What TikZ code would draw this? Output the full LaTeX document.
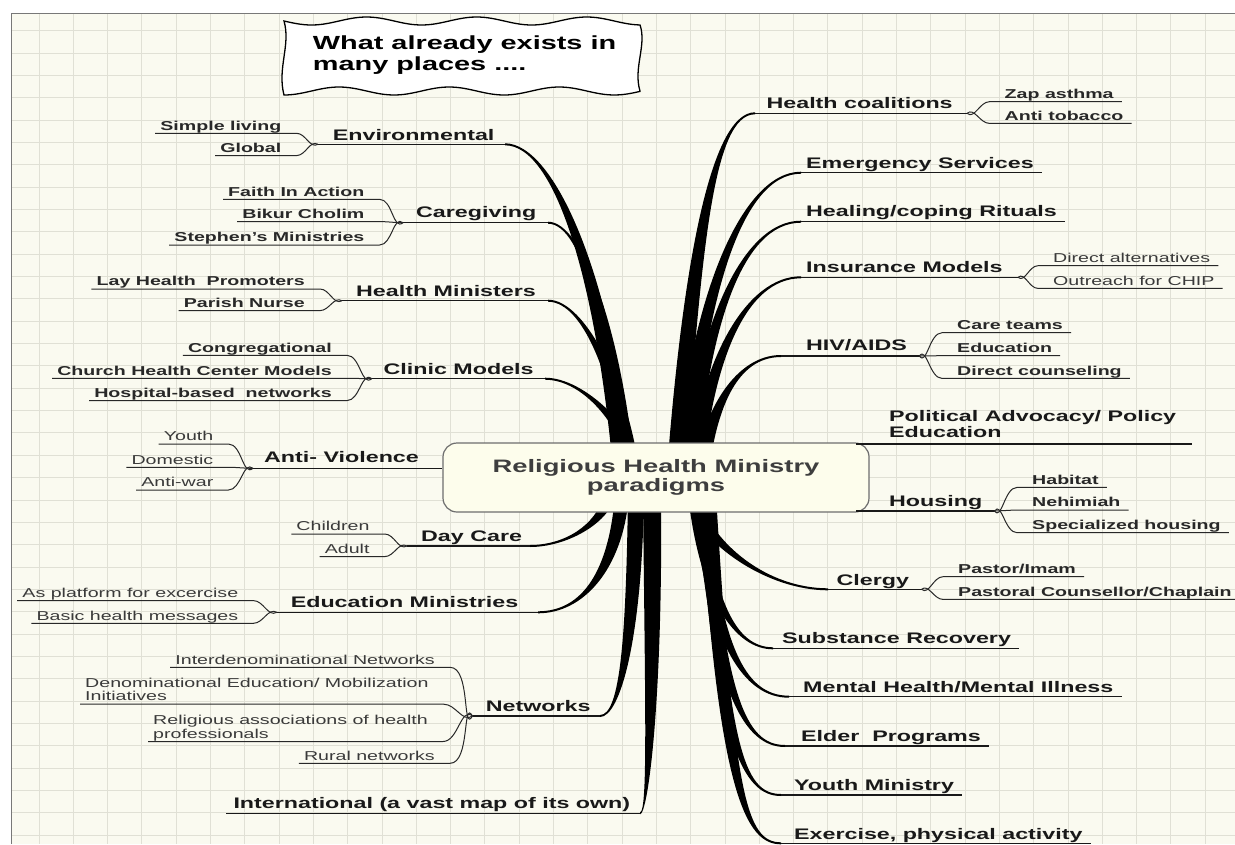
\documentclass[tikz,border=0pt]{standalone}
\usepackage{fontspec}
\setmainfont{Liberation Sans}[FakeStretch=1.52]
\usetikzlibrary{calc}

\definecolor{paper}{RGB}{250,250,240}
\definecolor{gridgray}{RGB}{224,224,213}
\definecolor{framegray}{RGB}{120,120,120}
\definecolor{hubfill}{RGB}{253,253,236}
\definecolor{hubline}{RGB}{110,110,110}
\definecolor{hubtext}{RGB}{62,62,62}
\definecolor{inkdark}{RGB}{25,25,25}
\definecolor{inkleaf}{RGB}{40,40,40}
\definecolor{inkthin}{RGB}{58,58,58}

\tikzset{
  gridline/.style={gridgray, line width=0.9pt},
  topic/.style={font=\bfseries\fontsize{15.3}{16}\selectfont, text=inkdark, inner sep=0pt, anchor=base west},
  leaf/.style={font=\bfseries\fontsize{12.9}{13.4}\selectfont, text=inkleaf, inner sep=0pt},
  thinleaf/.style={font=\fontsize{12.9}{13.4}\selectfont, text=inkthin, inner sep=0pt},
  stem/.style={draw=inkdark, line width=1.5pt},
  twig/.style={draw=inkleaf, line width=1pt},
  trunk/.style={fill=black},
  hub/.style={draw=hubline, fill=hubfill, line width=1.2pt, rounded corners=14pt,
    minimum width=426pt, minimum height=69pt, align=center, text=hubtext,
    font=\bfseries\fontsize{18}{19.5}\selectfont},
  notebox/.style={draw=black, fill=white, line width=1.3pt},
  notetext/.style={align=left, inner sep=0pt, font=\bfseries\fontsize{19}{20.7}\selectfont}
}

% tapered branch: root, end, control offset from root, control offset from end, half width, tip side
\newcommand\branch[6]{%
  \fill[trunk] ($(#1)-(#5,0)$) .. controls ($(#1)+(#3)-(#5,0)$) and ($(#2)+(#4)+(0,#6)$) .. ($(#2)+(0,#6)$)
    -- ($(#2)-(0,#6)$) .. controls ($(#2)+(#4)-(0,#6)$) and ($(#1)+(#3)+(#5,0)$) .. ($(#1)+(#5,0)$) -- cycle;}
% sub-topic lines, left and right
\newcommand\twigl[3]{\draw[twig] ($(#1.base west)+(-5,3.3)$) -- ($(#1.base east)+(15,3.3)$) to[out=0,in=#3] (#2);}
\newcommand\twigr[3]{\draw[twig] (#2) to[out=#3,in=180] ($(#1.base west)+(-15,3.4)$) -- ($(#1.base east)+(8,3.4)$);}

\begin{document}
\begin{tikzpicture}[x=1pt, y=-1pt]
  \useasboundingbox (0,0) rectangle (1235,844);

  % Paper with grid
  \fill[white] (0,0) rectangle (1235,844);
  \fill[paper] (11,13) rectangle (1235,844);
  \foreach \k in {0,...,34}
    \draw[gridline] ({39+34.3*\k},13) -- ({39+34.3*\k},844);
  \foreach \k in {0,...,36}
    \draw[gridline] (11,{30.6+22.35*\k}) -- (1235,{30.6+22.35*\k});
  \draw[framegray, line width=1pt] (11,844) -- (11,13) -- (1235,13);

  % Callout with wavy frame
  \draw[notebox] plot[domain=284:640, samples=90] (\x,{21+4*sin(3.27*(\x-284))})
    .. controls (647,45) and (633,68) .. (640,91)
    -- plot[domain=640:284, samples=90] (\x,{91+4*sin(3.27*(\x-284)+90)})
    .. controls (277,68) and (291,45) .. cycle;
  \node[notetext, anchor=base west] (note) at (312.7,70) {What already exists in\\many places ....};

  % Branch roots (hidden behind the hub)
  \coordinate (env-r) at (622,470);
  \coordinate (care-r) at (628,470);
  \coordinate (hmin-r) at (632,470);
  \coordinate (clinic-r) at (636,470);
  \coordinate (coal-r) at (676,470);
  \coordinate (emerg-r) at (684,470);
  \coordinate (heal-r) at (690,470);
  \coordinate (insur-r) at (696,470);
  \coordinate (hiv-r) at (702,470);
  \coordinate (daycare-r) at (610,495);
  \coordinate (edmin-r) at (622,495);
  \coordinate (netw-r) at (636,495);
  \coordinate (intl-r) at (652,495);
  \coordinate (clergy-r) at (690,495);
  \coordinate (subst-r) at (695,495);
  \coordinate (mental-r) at (699,495);
  \coordinate (elder-r) at (702,495);
  \coordinate (yminis-r) at (705,495);
  \coordinate (exer-r) at (708,495);

  % Branch ends
  \coordinate (env-e) at (505,144.3);
  \coordinate (care-e) at (548,222.7);
  \coordinate (hmin-e) at (548,300.7);
  \coordinate (clinic-e) at (545,378.7);
  \coordinate (coal-e) at (755,113.3);
  \coordinate (emerg-e) at (801,172.7);
  \coordinate (heal-e) at (801,221.7);
  \coordinate (insur-e) at (801,277.3);
  \coordinate (hiv-e) at (781,356);
  \coordinate (daycare-e) at (530,546);
  \coordinate (edmin-e) at (538,612.3);
  \coordinate (netw-e) at (600,716);
  \coordinate (intl-e) at (640,813.3);
  \coordinate (clergy-e) at (828,589.3);
  \coordinate (subst-e) at (773,648.3);
  \coordinate (mental-e) at (789,696.7);
  \coordinate (elder-e) at (785,746);
  \coordinate (yminis-e) at (781,795);
  \coordinate (exer-e) at (781,843.3);

  % Junctions
  \coordinate (env-j) at (318,144.3);
  \coordinate (care-j) at (403,222.7);
  \coordinate (hmin-j) at (342,300.7);
  \coordinate (clinic-j) at (371.7,378.7);
  \coordinate (antiv-j) at (253,468.3);
  \coordinate (daycare-j) at (407,546);
  \coordinate (edmin-j) at (276.8,612.3);
  \coordinate (netw-j) at (472.5,716);
  \coordinate (intl-s) at (226,813.3);
  \coordinate (coal-j) at (967,113.3);
  \coordinate (insur-j) at (1018,277.3);
  \coordinate (hiv-j) at (919.5,356);
  \coordinate (pol-s) at (856,443.8);
  \coordinate (house-s) at (856,510.9);
  \coordinate (house-j) at (994.6,510.9);
  \coordinate (clergy-j) at (921.5,589.3);

  % Thick branches
  \branch{env-r}{env-e}{-17,-190}{50,0}{9}{1}
  \branch{care-r}{care-e}{-14,-140}{35,0}{7}{1}
  \branch{hmin-r}{hmin-e}{-10,-80}{38,0}{7}{1}
  \branch{clinic-r}{clinic-e}{-6,-40}{40,0}{7}{1}
  \branch{coal-r}{coal-e}{17,-220}{-42,0}{9}{-1}
  \branch{emerg-r}{emerg-e}{13,-170}{-60,0}{8}{-1}
  \branch{heal-r}{heal-e}{12,-140}{-60,0}{7}{-1}
  \branch{insur-r}{insur-e}{11,-110}{-55,0}{7}{-1}
  \branch{hiv-r}{hiv-e}{8,-60}{-45,0}{7}{-1}
  \branch{daycare-r}{daycare-e}{-8,30}{35,0}{6}{-1}
  \branch{edmin-r}{edmin-e}{-6,75}{45,0}{7}{-1}
  \branch{netw-r}{netw-e}{-2,145}{20,0}{8}{-1}
  \branch{intl-r}{intl-e}{2,205}{8,0}{9}{-1}
  \branch{clergy-r}{clergy-e}{16,50}{-60,0}{7}{1}
  \branch{subst-r}{subst-e}{12,105}{-38,0}{7}{1}
  \branch{mental-r}{mental-e}{14,150}{-45,0}{7}{1}
  \branch{elder-r}{elder-e}{16,200}{-40,0}{7}{1}
  \branch{yminis-r}{yminis-e}{17,250}{-38,0}{7}{1}
  \branch{exer-r}{exer-e}{18,300}{-35,0}{8}{1}

  % Central topic
  \node[hub] (hub) at (656,477.5) {Religious Health Ministry\\paradigms};

  % Left: Environmental
  \node[topic] (env) at (332.7,140) {Environmental};
  \draw[stem] (env-j) -- (env-e);
  \node[leaf, anchor=base east] (simple) at (281.5,130) {Simple living};
  \node[leaf, anchor=base east] (global) at (281.5,152.3) {Global};
  \twigl{simple}{env-j}{210}
  \twigl{global}{env-j}{150}

  % Left: Caregiving
  \node[topic] (care) at (416,217.3) {Caregiving};
  \draw[stem] (care-j) -- (care-e);
  \node[leaf, anchor=base east] (faith) at (364.6,196) {Faith In Action};
  \node[leaf, anchor=base east] (bikur) at (364.6,218.3) {Bikur Cholim};
  \node[leaf, anchor=base east] (stephen) at (364.6,241.7) {Stephen's Ministries};
  \twigl{faith}{care-j}{220}
  \twigl{bikur}{care-j}{180}
  \twigl{stephen}{care-j}{140}

  % Left: Health Ministers
  \node[topic] (hmin) at (356,296) {Health Ministers};
  \draw[stem] (hmin-j) -- (hmin-e);
  \node[leaf, anchor=base east] (lay) at (305,285.7) {Lay Health~ Promoters};
  \node[leaf, anchor=base east] (parish) at (305,307.3) {Parish Nurse};
  \twigl{lay}{hmin-j}{210}
  \twigl{parish}{hmin-j}{150}

  % Left: Clinic Models
  \node[topic] (clinic) at (383.5,374) {Clinic Models};
  \draw[stem] (clinic-j) -- (clinic-e);
  \node[leaf, anchor=base east] (congr) at (332,352) {Congregational};
  \node[leaf, anchor=base east] (church) at (332,375) {Church Health Center Models};
  \node[leaf, anchor=base east] (hosp) at (332,397.3) {Hospital-based~ networks};
  \twigl{congr}{clinic-j}{220}
  \twigl{church}{clinic-j}{180}
  \twigl{hosp}{clinic-j}{140}

  % Left: Anti- Violence
  \node[topic] (antiv) at (264,462.7) {Anti- Violence};
  \draw[stem] (antiv-j) -- (antiv-j -| hub.west);
  \node[thinleaf, anchor=base east] (youth) at (213.5,440.7) {Youth};
  \node[thinleaf, anchor=base east] (domestic) at (213.5,464) {Domestic};
  \node[thinleaf, anchor=base east] (antiwar) at (213.5,486.7) {Anti-war};
  \twigl{youth}{antiv-j}{220}
  \twigl{domestic}{antiv-j}{180}
  \twigl{antiwar}{antiv-j}{140}

  % Left: Day Care
  \node[topic] (daycare) at (421,541.7) {Day Care};
  \draw[stem] (daycare-j) -- (daycare-e);
  \node[thinleaf, anchor=base east] (children) at (369.7,530.7) {Children};
  \node[thinleaf, anchor=base east] (adult) at (369.7,553.3) {Adult};
  \twigl{children}{daycare-j}{210}
  \twigl{adult}{daycare-j}{150}

  % Left: Education Ministries
  \node[topic] (edmin) at (290.6,607.7) {Education Ministries};
  \draw[stem] (edmin-j) -- (edmin-e);
  \node[thinleaf, anchor=base east] (platform) at (238.4,597.3) {As platform for excercise};
  \node[thinleaf, anchor=base east] (basic) at (238.4,620) {Basic health messages};
  \twigl{platform}{edmin-j}{210}
  \twigl{basic}{edmin-j}{150}

  % Left: Networks
  \node[topic] (netw) at (485.6,711.7) {Networks};
  \draw[stem] (netw-j) -- (netw-e);
  \node[thinleaf, anchor=base east] (inter) at (435,664) {Interdenominational Networks};
  \node[thinleaf, anchor=base west, align=left] (deno) at (85,700.9) {Denominational Education/ Mobilization\\Initiatives};
  \node[thinleaf, anchor=base west, align=left] (relig) at (153,738.2) {Religious associations of health\\professionals};
  \node[thinleaf, anchor=base east] (rural) at (435,760) {Rural networks};
  \twigl{inter}{netw-j}{240}
  \twigl{deno}{netw-j}{215}
  \twigl{relig}{netw-j}{140}
  \twigl{rural}{netw-j}{120}

  % Left: International
  \node[topic] (intl) at (233.3,808.3) {International (a vast map of its own)};
  \draw[stem] (intl-s) -- (intl-e);

  % Right: Health coalitions
  \node[topic] (coal) at (766.4,108.3) {Health coalitions};
  \draw[stem] (coal-e) -- (coal-j);
  \node[leaf, anchor=base west] (zap) at (1004.5,98.3) {Zap asthma};
  \node[leaf, anchor=base west] (tobacco) at (1004.5,120) {Anti tobacco};
  \twigr{zap}{coal-j}{320}
  \twigr{tobacco}{coal-j}{40}

  % Right: single topics
  \node[topic] (emerg) at (806,168.3) {Emergency Services};
  \draw[stem] (emerg-e) -- (emerg-e -| emerg.base east) -- ++(8,0);
  \node[topic] (heal) at (806,216.7) {Healing/coping Rituals};
  \draw[stem] (heal-e) -- (heal-e -| heal.base east) -- ++(8,0);

  % Right: Insurance Models
  \node[topic] (insur) at (806,272.7) {Insurance Models};
  \draw[stem] (insur-e) -- (insur-j);
  \node[thinleaf, anchor=base west] (directalt) at (1053,262.3) {Direct alternatives};
  \node[thinleaf, anchor=base west] (outreach) at (1053,285) {Outreach for CHIP};
  \twigr{directalt}{insur-j}{320}
  \twigr{outreach}{insur-j}{40}

  % Right: HIV/AIDS
  \node[topic] (hiv) at (806,350.7) {HIV/AIDS};
  \draw[stem] (hiv-e) -- (hiv-j);
  \node[leaf, anchor=base west] (careteam) at (957,329.3) {Care teams};
  \node[leaf, anchor=base west] (educ) at (957,352.3) {Education};
  \node[leaf, anchor=base west] (counsel) at (957,375) {Direct counseling};
  \twigr{careteam}{hiv-j}{305}
  \twigr{educ}{hiv-j}{0}
  \twigr{counsel}{hiv-j}{55}

  % Right: Political Advocacy
  \node[topic, align=left] (policy) at (889,437.7) {Political Advocacy/ Policy\\Education};
  \draw[stem] (pol-s) -- (pol-s -| policy.east) -- ++(16,0);

  % Right: Housing
  \node[topic] (housing) at (889,506) {Housing};
  \draw[stem] (house-s) -- (house-j);
  \node[leaf, anchor=base west] (habitat) at (1032,484) {Habitat};
  \node[leaf, anchor=base west] (nehim) at (1032,506.7) {Nehimiah};
  \node[leaf, anchor=base west] (special) at (1032,529.3) {Specialized housing};
  \twigr{habitat}{house-j}{305}
  \twigr{nehim}{house-j}{0}
  \twigr{special}{house-j}{55}

  % Right: Clergy
  \node[topic] (clergy) at (836.4,585) {Clergy};
  \draw[stem] (clergy-e) -- (clergy-j);
  \node[leaf, anchor=base west] (pastor) at (958,573.3) {Pastor/Imam};
  \node[leaf, anchor=base west] (counsellor) at (958,596) {Pastoral Counsellor/Chaplain};
  \twigr{pastor}{clergy-j}{320}
  \twigr{counsellor}{clergy-j}{40}

  % Right: lower single topics
  \node[topic] (subst) at (782,643.3) {Substance Recovery};
  \draw[stem] (subst-e) -- (subst-e -| subst.base east) -- ++(8,0);
  \node[topic] (mental) at (803,692.7) {Mental Health/Mental Illness};
  \draw[stem] (mental-e) -- (mental-e -| mental.base east) -- ++(8,0);
  \node[topic] (elder) at (801,741.7) {Elder~ Programs};
  \draw[stem] (elder-e) -- (elder-e -| elder.base east) -- ++(8,0);
  \node[topic] (yminis) at (794,790) {Youth Ministry};
  \draw[stem] (yminis-e) -- (yminis-e -| yminis.base east) -- ++(8,0);
  \node[topic] (exer) at (794,839.3) {Exercise, physical activity};
  \draw[stem] (exer-e) -- (exer-e -| exer.base east) -- ++(8,0);
\end{tikzpicture}
\end{document}
